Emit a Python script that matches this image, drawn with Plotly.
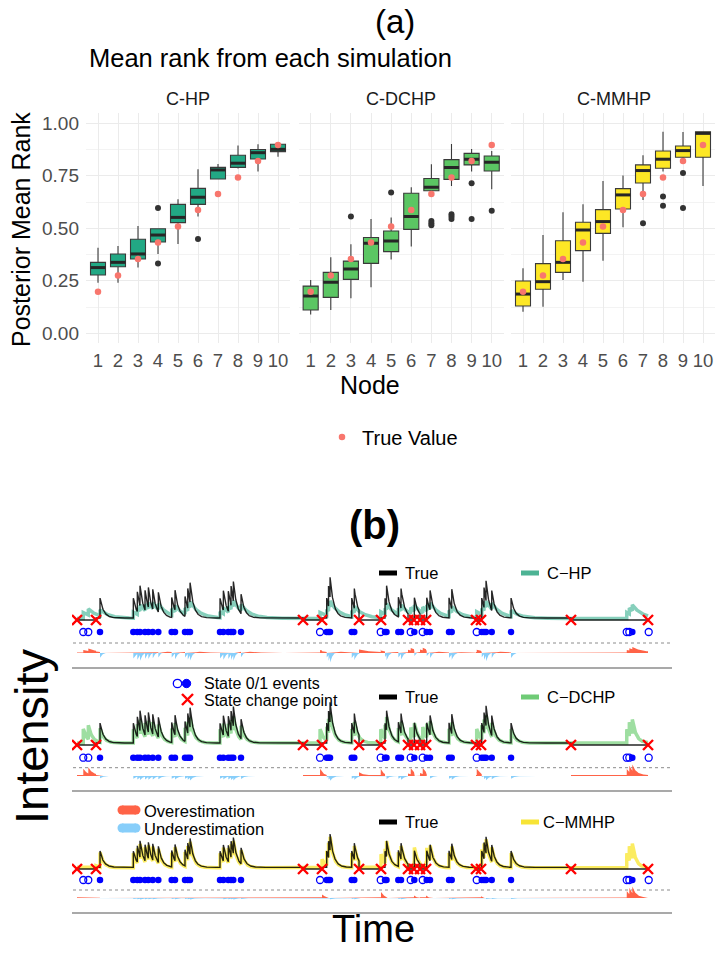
import numpy as np
import plotly.graph_objects as go

W, H = 715, 953
FONT = "Liberation Sans, Arial, Helvetica, sans-serif"

# ------------------------------------------------------------------ (a) data
NODES = [1, 2, 3, 4, 5, 6, 7, 8, 9, 10]
TRUE_RANK = [0.198, 0.275, 0.354, 0.432, 0.509, 0.587, 0.663, 0.742, 0.821, 0.897]

HP_Q1 = [0.278, 0.317, 0.354, 0.435, 0.527, 0.614, 0.735, 0.790, 0.830, 0.865]
HP_MED = [0.313, 0.338, 0.378, 0.468, 0.552, 0.648, 0.778, 0.810, 0.860, 0.876]
HP_Q3 = [0.338, 0.378, 0.448, 0.498, 0.614, 0.690, 0.790, 0.848, 0.875, 0.900]
HP_LO = [0.241, 0.241, 0.314, 0.378, 0.425, 0.556, 0.735, 0.785, 0.770, 0.841]
HP_HI = [0.408, 0.416, 0.511, 0.500, 0.638, 0.781, 0.806, 0.894, 0.900, 0.905]
HP_OUT_X = [4, 4, 6]
HP_OUT_Y = [0.597, 0.333, 0.449]

DC_Q1 = [0.111, 0.171, 0.257, 0.333, 0.389, 0.495, 0.679, 0.733, 0.802, 0.773]
DC_MED = [0.178, 0.243, 0.306, 0.429, 0.440, 0.556, 0.695, 0.789, 0.829, 0.814]
DC_Q3 = [0.225, 0.290, 0.344, 0.456, 0.487, 0.667, 0.737, 0.827, 0.857, 0.844]
DC_LO = [0.090, 0.111, 0.167, 0.219, 0.352, 0.413, 0.679, 0.702, 0.770, 0.686]
DC_HI = [0.254, 0.362, 0.424, 0.544, 0.552, 0.695, 0.805, 0.902, 0.878, 0.868]
DC_OUT_X = [3, 5, 7, 7, 7, 8, 8, 8, 9, 9, 10]
DC_OUT_Y = [0.556, 0.671, 0.535, 0.524, 0.514, 0.567, 0.556, 0.544, 0.714, 0.544, 0.584]

MM_Q1 = [0.130, 0.210, 0.290, 0.394, 0.476, 0.592, 0.716, 0.786, 0.838, 0.838]
MM_MED = [0.187, 0.246, 0.338, 0.492, 0.532, 0.659, 0.775, 0.829, 0.870, 0.952]
MM_Q3 = [0.249, 0.332, 0.441, 0.529, 0.589, 0.689, 0.802, 0.868, 0.892, 0.960]
MM_LO = [0.103, 0.127, 0.254, 0.246, 0.346, 0.505, 0.635, 0.770, 0.830, 0.702]
MM_HI = [0.310, 0.468, 0.576, 0.614, 0.725, 0.751, 0.848, 0.960, 0.959, 0.960]
MM_OUT_X = [7, 8, 8, 9, 9]
MM_OUT_Y = [0.524, 0.651, 0.608, 0.763, 0.597]

MODELS = ["C-HP", "C-DCHP", "C-MMHP"]
BOX_COLORS = ["#22A884", "#5BC663", "#FDE725"]

# ------------------------------------------------------------------ (b) data
CHANGE_POINTS = [0.0, 3.33, 39.58, 42.91, 49.39, 53.24, 57.97, 59.02,
                 60.07, 61.13, 69.88, 70.75, 86.51, 100.0]
MMHP_STATE_POINTS = [0.0, 3.33, 39.58, 42.91, 49.39, 53.24, 57.97, 59.02,
                     60.07, 61.13, 69.88, 70.75, 86.51, 96.0, 100.0]
EVENT_TIMES = [1.10, 1.98, 4.03, 9.86, 10.56, 11.03, 11.91, 12.49, 13.26,
               14.24, 16.58, 17.16, 18.91, 19.39, 19.79, 25.04, 25.62, 26.50,
               26.97, 27.37, 28.72, 42.56, 43.73, 44.05, 44.31, 48.11, 48.56, 53.19,
               53.94, 54.20, 56.27, 56.74, 58.44, 59.07, 60.54, 61.24, 61.82, 65.15,
               65.62, 70.00, 70.88, 71.28, 71.63, 72.63, 76.01, 96.27, 96.72, 97.25,
               100.12]
EVENT_STATES = [0, 0, 1, 1, 1, 1, 1, 1, 1,
                1, 1, 1, 1, 1, 1, 1, 1, 1,
                1, 1, 1, 0, 1, 1, 1, 1, 1, 0,
                1, 1, 1, 1, 0, 1, 0, 1, 1, 1,
                1, 0, 1, 1, 1, 1, 1, 0, 0, 1,
                0]

# model parameters (baseline, jump, decay)
TRUE_BASE0, TRUE_BASE1, TRUE_JUMP, TRUE_DECAY = 0.0, 2.0, 20.0, 1.6
HP_BASE, HP_JUMP, HP_DECAY = 1.5, 6.0, 0.6
DC_BASE, DC_JUMP, DC_DECAY = 2.0, 14.0, 1.5
MM_BASE0, MM_BASE1, MM_JUMP, MM_DECAY = 2.0, 1.5, 18.0, 1.6

EST_NAMES = ["C\u2212HP", "C\u2212DCHP", "C\u2212MMHP"]
EST_COLORS = ["rgba(34,168,132,0.55)", "rgba(93,200,99,0.6)", "rgba(250,228,30,0.7)"]
EST_LEGEND_COLORS = ["#4DB394", "#6FCB76", "#F7E436"]
OVER_COLOR = "#FF6347"
UNDER_COLOR = "#87CEFA"


def X(px):
    return px / W


def Y(py):
    return 1 - py / H


fig = go.Figure()

# ------------------------------------------------------------------ (a) plot
box_sets = [
    (HP_Q1, HP_MED, HP_Q3, HP_LO, HP_HI, HP_OUT_X, HP_OUT_Y),
    (DC_Q1, DC_MED, DC_Q3, DC_LO, DC_HI, DC_OUT_X, DC_OUT_Y),
    (MM_Q1, MM_MED, MM_Q3, MM_LO, MM_HI, MM_OUT_X, MM_OUT_Y),
]
BOX_W = 0.75
for k, (q1, med, q3, lo, hi, ox, oy) in enumerate(box_sets):
    xa = "x" if k == 0 else f"x{k+1}"
    ya = "y" if k == 0 else f"y{k+1}"
    fig.add_trace(go.Box(
        x=NODES, q1=q1, median=med, q3=q3, lowerfence=lo, upperfence=hi,
        fillcolor=BOX_COLORS[k], line=dict(color="#3A3A3A", width=1.1),
        whiskerwidth=0, width=BOX_W, boxpoints=False, showlegend=False,
        hoverinfo="skip", xaxis=xa, yaxis=ya))
    mx, my = [], []
    for n, m in zip(NODES, med):
        mx += [n - BOX_W / 2, n + BOX_W / 2, None]
        my += [m, m, None]
    fig.add_trace(go.Scatter(x=mx, y=my, mode="lines",
                             line=dict(color="#262626", width=3),
                             showlegend=False, hoverinfo="skip", xaxis=xa, yaxis=ya))
    fig.add_trace(go.Scatter(x=ox, y=oy, mode="markers",
                             marker=dict(color="#333333", size=6),
                             showlegend=False, hoverinfo="skip", xaxis=xa, yaxis=ya))
    fig.add_trace(go.Scatter(x=NODES, y=TRUE_RANK, mode="markers",
                             marker=dict(color="#F8766D", size=6.5),
                             name="True Value", showlegend=(k == 0),
                             hoverinfo="skip", xaxis=xa, yaxis=ya))

# ------------------------------------------------------------------ (b) plot
ev = np.asarray(EVENT_TIMES)
ev_state = np.asarray(EVENT_STATES)
tg = np.linspace(0.0, 100.0, 6001)
extra = [e - 1e-4 for e in EVENT_TIMES if 0 < e <= 100] + \
        [c - 1e-4 for c in MMHP_STATE_POINTS[1:-1]] + [c + 1e-4 for c in MMHP_STATE_POINTS[1:-1]]
tg = np.unique(np.concatenate([tg, np.asarray(extra)]))


def hawkes(t, events, jump, decay):
    events = np.asarray(events)
    dt = t[:, None] - events[None, :]
    return np.where(dt >= 0, jump * np.exp(-decay * np.clip(dt, 0, None)), 0.0).sum(axis=1)


def state_of(t, cps):
    cps = np.asarray(cps)
    idx = np.searchsorted(cps, t, side="right") - 1
    idx = np.clip(idx, 0, len(cps) - 2)
    return idx % 2


st_true = state_of(tg, CHANGE_POINTS)
st_mm = state_of(tg, MMHP_STATE_POINTS)
lam_true = np.where(st_true == 1,
                    TRUE_BASE1 + hawkes(tg, ev[ev_state == 1], TRUE_JUMP, TRUE_DECAY),
                    TRUE_BASE0)
lam_hp = HP_BASE + hawkes(tg, ev, HP_JUMP, HP_DECAY)
lam_dc = DC_BASE + hawkes(tg, ev, DC_JUMP, DC_DECAY)
lam_mm = np.where(st_mm == 1, MM_BASE1 + hawkes(tg, ev, MM_JUMP, MM_DECAY), MM_BASE0)
estimates = [lam_hp, lam_dc, lam_mm]

PANEL_SCALE = [1.0, 1.0, 0.82]
DOT_OFF = [-12, -12.7, -11]
DOTTED_OFF = [-23, -22.7, -21]
DIFF_OFF = [-33, -31, -29]
DIFF_SCALE = [0.4, 0.45, 0.45]

shapes = []
annotations = []

for p in range(3):
    ya = f"y{p+4}"
    s = PANEL_SCALE[p]
    diff = estimates[p] - lam_true
    base = DIFF_OFF[p]
    pos = base + np.clip(diff, 0, None) * DIFF_SCALE[p] * s
    neg = base + np.clip(diff, None, 0) * DIFF_SCALE[p] * s
    xs = np.concatenate([tg, tg[::-1]])
    fig.add_trace(go.Scatter(x=xs, y=np.concatenate([pos, np.full_like(tg, base)]),
                             fill="toself", fillcolor=OVER_COLOR, mode="lines",
                             line=dict(width=0, color=OVER_COLOR),
                             showlegend=False, hoverinfo="skip", xaxis="x4", yaxis=ya))
    fig.add_trace(go.Scatter(x=xs, y=np.concatenate([neg, np.full_like(tg, base)]),
                             fill="toself", fillcolor=UNDER_COLOR, mode="lines",
                             line=dict(width=0, color=UNDER_COLOR),
                             showlegend=False, hoverinfo="skip", xaxis="x4", yaxis=ya))
    fig.add_trace(go.Scatter(x=tg, y=estimates[p] * s, mode="lines",
                             line=dict(color=EST_COLORS[p], width=3.5),
                             showlegend=False, hoverinfo="skip", xaxis="x4", yaxis=ya))
    fig.add_trace(go.Scatter(x=tg, y=lam_true * s, mode="lines",
                             line=dict(color="rgba(0,0,0,0.85)", width=1.4),
                             showlegend=False, hoverinfo="skip", xaxis="x4", yaxis=ya))
    fig.add_trace(go.Scatter(x=CHANGE_POINTS, y=[TRUE_BASE0 * s] * len(CHANGE_POINTS),
                             mode="markers",
                             marker=dict(symbol="x-thin", size=10, color="red",
                                         line=dict(width=2.4, color="red")),
                             showlegend=False, hoverinfo="skip", xaxis="x4", yaxis=ya))
    fill_t = [t for t, z in zip(EVENT_TIMES, EVENT_STATES) if z == 1]
    open_t = [t for t, z in zip(EVENT_TIMES, EVENT_STATES) if z == 0]
    fig.add_trace(go.Scatter(x=open_t, y=[DOT_OFF[p]] * len(open_t), mode="markers",
                             marker=dict(symbol="circle-open", size=7, color="blue",
                                         line=dict(width=1.3, color="blue")),
                             showlegend=False, hoverinfo="skip", xaxis="x4", yaxis=ya))
    fig.add_trace(go.Scatter(x=fill_t, y=[DOT_OFF[p]] * len(fill_t), mode="markers",
                             marker=dict(symbol="circle", size=6.5, color="blue"),
                             showlegend=False, hoverinfo="skip", xaxis="x4", yaxis=ya))
    shapes.append(dict(type="line", xref="paper", yref=ya, x0=X(73), x1=X(672),
                       y0=DOTTED_OFF[p], y1=DOTTED_OFF[p], layer="below",
                       line=dict(color="#8C8C8C", width=1, dash="dot")))

# separator lines
for yy in [668, 791, 913]:
    shapes.append(dict(type="line", xref="paper", yref="paper", x0=X(72), x1=X(672),
                       y0=Y(yy), y1=Y(yy), line=dict(color="#555555", width=1.2)))

# legends in panels
LEG_Y = [573, 697, 822]
for p in range(3):
    yy = LEG_Y[p]
    shapes.append(dict(type="line", xref="paper", yref="paper", x0=X(379), x1=X(397),
                       y0=Y(yy), y1=Y(yy), line=dict(color="black", width=5)))
    shapes.append(dict(type="line", xref="paper", yref="paper", x0=X(521), x1=X(539),
                       y0=Y(yy), y1=Y(yy), line=dict(color=EST_LEGEND_COLORS[p], width=5)))
    annotations.append(dict(text="True", x=X(403), y=Y(yy), xref="paper", yref="paper",
                            xanchor="left", yanchor="middle", showarrow=False,
                            font=dict(size=16.5, family=FONT, color="black")))
    annotations.append(dict(text=EST_NAMES[p], x=X(545 if p < 2 else 541), y=Y(yy),
                            xref="paper", yref="paper", xanchor="left", yanchor="middle",
                            showarrow=False, font=dict(size=16.5, family=FONT, color="black")))

# state legend
shapes.append(dict(type="circle", xref="paper", yref="paper",
                   x0=X(173.3), x1=X(181.7), y0=Y(687.7), y1=Y(679.3),
                   line=dict(color="blue", width=1.3), fillcolor="rgba(0,0,0,0)"))
shapes.append(dict(type="circle", xref="paper", yref="paper",
                   x0=X(182.3), x1=X(190.7), y0=Y(687.7), y1=Y(679.3),
                   line=dict(color="blue", width=1), fillcolor="blue"))
shapes.append(dict(type="line", xref="paper", yref="paper", x0=X(182), x1=X(193),
                   y0=Y(694), y1=Y(705), line=dict(color="red", width=2.4)))
shapes.append(dict(type="line", xref="paper", yref="paper", x0=X(182), x1=X(193),
                   y0=Y(705), y1=Y(694), line=dict(color="red", width=2.4)))
annotations.append(dict(text="State 0/1 events", x=X(202), y=Y(683), xref="paper",
                        yref="paper", xanchor="left", yanchor="middle", showarrow=False,
                        font=dict(size=16, family=FONT, color="black")))
annotations.append(dict(text="State change point", x=X(202), y=Y(700), xref="paper",
                        yref="paper", xanchor="left", yanchor="middle", showarrow=False,
                        font=dict(size=16, family=FONT, color="black")))

# over / under legend
for yy, col, txt in [(810, OVER_COLOR, "Overestimation"), (828, UNDER_COLOR, "Underestimation")]:
    shapes.append(dict(type="line", xref="paper", yref="paper", x0=X(122), x1=X(136),
                       y0=Y(yy), y1=Y(yy), line=dict(color=col, width=9)))
    shapes.append(dict(type="circle", xref="paper", yref="paper", x0=X(117.5), x1=X(126.5),
                       y0=Y(yy + 4.5), y1=Y(yy - 4.5), line=dict(width=0), fillcolor=col))
    shapes.append(dict(type="circle", xref="paper", yref="paper", x0=X(131.5), x1=X(140.5),
                       y0=Y(yy + 4.5), y1=Y(yy - 4.5), line=dict(width=0), fillcolor=col))
    annotations.append(dict(text=txt, x=X(142), y=Y(yy + 0.5), xref="paper", yref="paper",
                            xanchor="left", yanchor="middle", showarrow=False,
                            font=dict(size=16.5, family=FONT, color="black")))

# ------------------------------------------------------------------ titles / labels
def ann(text, x, y, size, anchor="center", angle=0, bold=False, color="black"):
    annotations.append(dict(text=f"<b>{text}</b>" if bold else text, x=X(x), y=Y(y),
                            xref="paper", yref="paper", xanchor=anchor, yanchor="middle",
                            showarrow=False, textangle=angle,
                            font=dict(size=size, family=FONT, color=color)))


ann("(a)", 395, 21, 33)
ann("Mean rank from each simulation", 87, 58, 25.5, anchor="left")
for name, cx in zip(MODELS, [188, 401, 614]):
    ann(name, cx, 99, 18, color="#1A1A1A")
ann("Posterior Mean Rank", 21, 230, 25, angle=-90)
ann("Node", 370, 385, 25)
ann("(b)", 374, 525, 40, bold=True)
ann("Intensity", 31, 736, 47, angle=-90)
ann("Time", 373, 929, 38)

xtop = dict(range=[0.4, 10.6], tickvals=NODES, ticktext=[str(n) for n in NODES],
            showgrid=True, gridcolor="#EBEBEB", gridwidth=1, zeroline=False,
            showline=False, ticks="", tickfont=dict(size=18.5, family=FONT, color="#4D4D4D"),
            ticklabelstandoff=4)
ytop = dict(range=[-0.046, 1.049], tickvals=[0, 0.25, 0.5, 0.75, 1.0],
            ticktext=["0.00", "0.25", "0.50", "0.75", "1.00"],
            showgrid=True, gridcolor="#EBEBEB", gridwidth=1, zeroline=False,
            showline=False, ticks="", tickfont=dict(size=19, family=FONT, color="#4D4D4D"),
            minor=dict(tickvals=[0.125, 0.375, 0.625, 0.875], showgrid=True,
                       gridcolor="#F3F3F3", gridwidth=1),
            ticklabelstandoff=6)
hidden = dict(visible=False, showgrid=False, zeroline=False)

fig.update_layout(
    width=W, height=H, margin=dict(l=0, r=0, t=0, b=0),
    paper_bgcolor="white", plot_bgcolor="white",
    font=dict(family=FONT, color="black"),
    xaxis=dict(domain=[X(86), X(290)], anchor="y", **xtop),
    xaxis2=dict(domain=[X(298.6), X(503.8)], anchor="y2", **xtop),
    xaxis3=dict(domain=[X(511), X(715)], anchor="y3", **xtop),
    yaxis=dict(domain=[Y(343), Y(113)], anchor="x", showticklabels=True, **ytop),
    yaxis2=dict(domain=[Y(343), Y(113)], anchor="x2", showticklabels=False, **ytop),
    yaxis3=dict(domain=[Y(343), Y(113)], anchor="x3", showticklabels=False, **ytop),
    xaxis4=dict(domain=[X(72), X(672)], range=[-0.876, 104.2], anchor="y4", **hidden),
    yaxis4=dict(domain=[Y(668), Y(548)], range=[-48, 72], anchor="x4", **hidden),
    yaxis5=dict(domain=[Y(789), Y(672)], range=[-44, 73], anchor="x4", **hidden),
    yaxis6=dict(domain=[Y(912), Y(793)], range=[-43, 76], anchor="x4", **hidden),
    showlegend=True,
    legend=dict(x=X(322), y=Y(437), xanchor="left", yanchor="middle", orientation="h",
                font=dict(size=20, family=FONT, color="black"), bgcolor="rgba(0,0,0,0)"),
    shapes=shapes,
    annotations=annotations,
)

fig.write_html("out.html")
